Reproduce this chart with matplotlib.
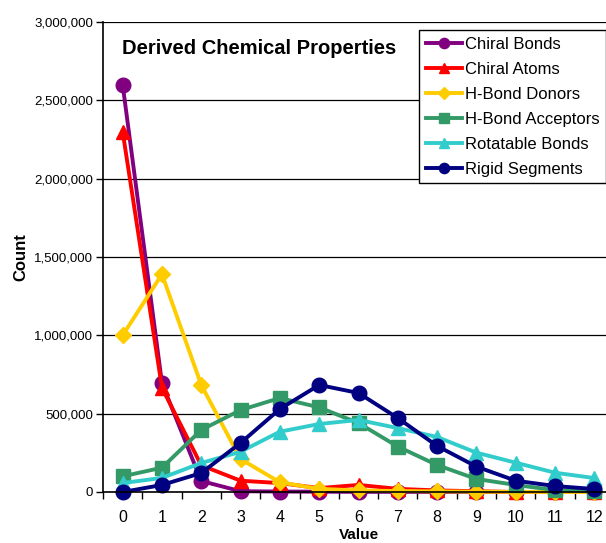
import numpy as np
import matplotlib
matplotlib.use("Agg")
from matplotlib import pyplot as plt
from matplotlib.ticker import FuncFormatter, FixedLocator

plt.rcParams['font.family'] = ['Liberation Sans', 'DejaVu Sans']

values = list(range(13))
chiral_bonds = [2600000, 695000, 70000, 5000, 3000, 2000, 1000, 1000, 0, 0, 0, 0, 0]
chiral_atoms = [2300000, 665000, 170000, 72000, 57000, 25000, 45000, 20000, 10000, 5000, 0, 0, 0]
hbond_donors = [1000000, 1390000, 683000, 210000, 62000, 20000, 10000, 6000, 4000, 2000, 1000, 0, 0]
hbond_acceptors = [100000, 155000, 396000, 523000, 600000, 540000, 440000, 290000, 172000, 83000, 45000, 12000, 5000]
rotatable_bonds = [57000, 90000, 185000, 257000, 385000, 434000, 460000, 408000, 351000, 251000, 187000, 123000, 89000]
rigid_segments = [0, 45000, 121000, 313000, 530000, 683000, 632000, 472000, 294000, 162000, 72000, 38000, 19000]

series = [
    ("Chiral Bonds", chiral_bonds, "#800080", "o", 10.5),
    ("Chiral Atoms", chiral_atoms, "#FF0000", "^", 10.5),
    ("H-Bond Donors", hbond_donors, "#FFCC00", "D", 8.5),
    ("H-Bond Acceptors", hbond_acceptors, "#339966", "s", 9.5),
    ("Rotatable Bonds", rotatable_bonds, "#33CCCC", "^", 10.5),
    ("Rigid Segments", rigid_segments, "#000080", "o", 10.5),
]

fig = plt.figure(figsize=(6.06, 5.43), dpi=100)
ax = fig.add_axes([103 / 606, 51 / 543, 511 / 606, 470 / 543])

for name, ys, col, mk, ms in series:
    ax.plot(values, ys, color=col, lw=2.8, marker=mk, markersize=ms,
            markerfacecolor=col, markeredgecolor=col, label=name, clip_on=False)

ax.set_xlim(-0.5, 12.5)
ax.set_ylim(0, 3000000)
ax.set_yticks(np.arange(0, 3000001, 500000))
ax.yaxis.set_major_formatter(FuncFormatter(lambda v, p: f"{int(v):,}"))
ax.set_xticks(values)
ax.xaxis.set_minor_locator(FixedLocator(np.arange(-0.5, 13, 1)))
ax.tick_params(axis='x', which='major', length=0, labelsize=11.5, pad=13)
ax.tick_params(axis='x', which='minor', length=5, width=1, direction='out')
ax.tick_params(axis='y', labelsize=9.5, length=5, width=1, direction='out', pad=2)
ax.grid(axis='y', color='black', lw=0.9)
ax.set_axisbelow(True)
for s in ['top', 'right']:
    ax.spines[s].set_visible(False)
for s in ['left', 'bottom']:
    ax.spines[s].set_linewidth(1.2)

ax.set_xlabel("Value", fontsize=11, fontweight='bold', labelpad=2)
ax.set_ylabel("Count", fontsize=12, fontweight='bold', labelpad=4)

fig.text(122 / 606, 1 - 48 / 543, "Derived Chemical Properties", fontsize=14.5,
         fontweight='bold', va='center', ha='left')

leg = fig.legend(loc='upper left', bbox_to_anchor=(419 / 606, 1 - 30 / 543),
                 fontsize=12, frameon=True, fancybox=False, framealpha=1,
                 edgecolor='black', borderpad=0.4, labelspacing=0.6,
                 handlelength=2.2, handletextpad=0.15, borderaxespad=0,
                 markerscale=0.7)
leg.get_frame().set_linewidth(1.0)

fig.savefig("out.png", dpi=100)
